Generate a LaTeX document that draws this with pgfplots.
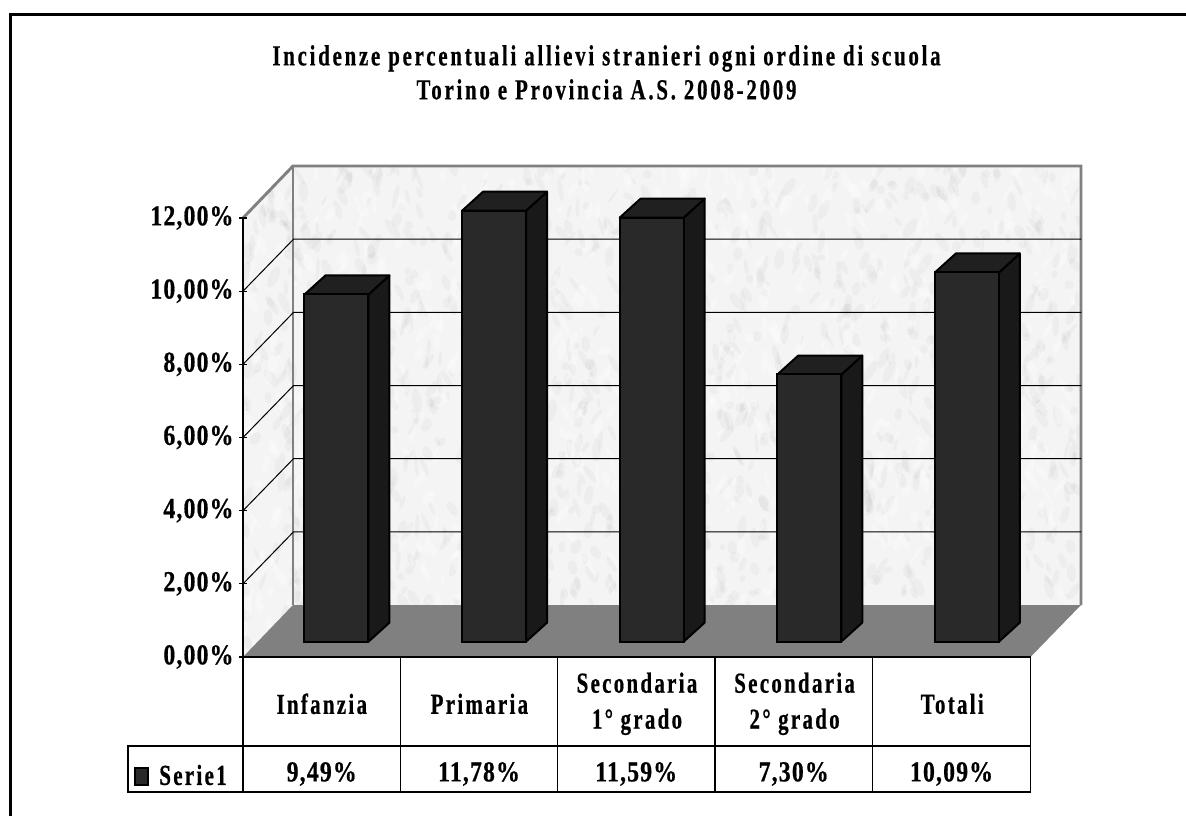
\documentclass[border=0pt]{standalone}
\usepackage{pgfplots}
\usepackage{pgfplotstable}
\pgfplotsset{compat=1.18}
\usepackage{fontspec}
\setmainfont{Liberation Serif}
\newfontfamily\titlef[LetterSpace=9.5,FakeStretch=0.72,FakeBold=0.6]{Liberation Serif Bold}
\newfontfamily\labf[LetterSpace=8,FakeStretch=0.72,FakeBold=0.6]{Liberation Serif Bold}
\newfontfamily\tickf[LetterSpace=4,FakeStretch=0.82,FakeBold=0.6]{Liberation Serif Bold}
\definecolor{wall}{HTML}{F4F4F4}
\definecolor{floorc}{HTML}{808080}
\definecolor{barfront}{HTML}{292929}
\definecolor{barside}{HTML}{191919}
\definecolor{bartop}{HTML}{202020}
\pgfplotstableread{
idx value
0 9.49
1 11.78
2 11.59
3 7.30
4 10.09
}\datatable
% geometry in axis units
\def\dx{0.3204}  \def\dy{1.42}    % depth of the chart floor
\def\hw{0.203}   \def\ox{0.0933}  % half width and x offset of a bar
\def\bx{0.133}   \def\by{0.52}    % depth of a bar
\newcommand\barsides[2]{%
  \pgfmathsetmacro\xa{#1+\ox+\hw}%
  \pgfmathsetmacro\xl{#1+\ox-\hw}%
  \pgfmathsetmacro\xb{\xa+\bx}%
  \pgfmathsetmacro\xm{\xl+\bx}%
  \pgfmathsetmacro\ybot{0.42}%
  \pgfmathsetmacro\ybb{0.42+\by}%
  \pgfmathsetmacro\ytop{#2+0.42}%
  \pgfmathsetmacro\ytt{#2+0.42+\by}%
  \edef\temp{\noexpand\addplot[fill=barside,draw=black,line width=1.5pt,line join=round] coordinates {(\xa,\ybot)(\xb,\ybb)(\xb,\ytt)(\xa,\ytop)} -- cycle;
  \noexpand\addplot[fill=bartop,draw=black,line width=1.5pt,line join=round] coordinates {(\xl,\ytop)(\xm,\ytt)(\xb,\ytt)(\xa,\ytop)} -- cycle;}%
  \temp}
\newcommand\griddiag[1]{%
  \pgfmathsetmacro\yb{#1+\dy}%
  \pgfmathsetmacro\xb{-0.5+\dx}%
  \pgfmathsetmacro\xe{4.5+\dx}%
  \edef\temp{\noexpand\addplot[black,line width=0.75pt] coordinates {(-0.5,#1)(\xb,\yb)(\xe,\yb)};}%
  \temp}
\begin{document}
\begin{tikzpicture}
\path[use as bounding box] (0,0) rectangle (889.5pt,-612pt);
\fill[white] (0,0) rectangle (889.5pt,-612pt);
\begin{scope}[x=0.75pt,y=-0.75pt]
  % outer frame
  \draw[black,line width=2.3pt] (10.5,816) -- (10.5,14.5) -- (1186,14.5);
  % walls
  \fill[wall] (243,657) -- (243,218) -- (293,166) -- (1081,166) -- (1081,605) -- (293,605) -- cycle;
  \begin{scope}
    \clip (243,657) -- (243,218) -- (293,166) -- (1081,166) -- (1081,605) -- (293,605) -- cycle;
    \pgfmathsetseed{4711}
    \foreach \i in {1,...,2200}{
      \pgfmathsetmacro\px{243+rnd*840}
      \pgfmathsetmacro\py{166+rnd*490}
      \pgfmathsetmacro\ra{3+rnd*9}
      \pgfmathsetmacro\rb{1.5+rnd*3.5}
      \pgfmathsetmacro\an{50+rnd*80}
      \pgfmathsetmacro\kind{rnd}
      \ifdim\kind pt<0.4pt
        \fill[white,opacity=0.30,rotate around={\an:(\px,\py)}] (\px,\py) ellipse [x radius=\ra,y radius=\rb];
      \else
        \fill[black!50,opacity=0.06,rotate around={\an:(\px,\py)}] (\px,\py) ellipse [x radius=\ra,y radius=\rb];
      \fi
    }
  \end{scope}
  % floor
  \fill[floorc] (243,657) -- (293,605) -- (1081,605) -- (1030.5,657) -- cycle;
  % wall outline
  \draw[floorc,line width=2.2pt,line join=miter] (243,218) -- (293,166) -- (1081,166) -- (1081,605);
  \draw[floorc,line width=2.2pt] (293,166) -- (293,605);
\end{scope}
\begin{axis}[
  at={(182.25pt,-492.75pt)},anchor=south west,
  scale only axis,width=591pt,height=329.25pt,
  xmin=-0.5,xmax=4.5,ymin=0,ymax=12,clip=false,
  axis x line=bottom,axis y line=left,
  axis line style={-,black},
  x axis line style={line width=1.8pt},
  y axis line style={line width=1.1pt},
  xtick={0,1,2,3,4},
  xticklabels={Infanzia,Primaria,{Secondaria\\1° grado},{Secondaria\\2° grado},Totali},
  xticklabel style={font=\labf\fontsize{21.75pt}{27pt}\selectfont,align=center,anchor=center,yshift=-32.5pt},
  x tick style={draw=none},
  major tick length=5.25pt,
  ytick={0,2,4,6,8,10,12},
  yticklabels={{0,00\%},{2,00\%},{4,00\%},{6,00\%},{8,00\%},{10,00\%},{12,00\%}},
  yticklabel style={font=\tickf\fontsize{21.75pt}{24pt}\selectfont,anchor=east,xshift=-1pt},
  y tick style={black,line width=0.8pt},
]
\griddiag{2}\griddiag{4}\griddiag{6}\griddiag{8}\griddiag{10}
\barsides{0}{9.49}
\barsides{1}{11.78}
\barsides{2}{11.59}
\barsides{3}{7.30}
\barsides{4}{10.09}
\addplot[ybar,bar width=48pt,bar shift=11pt,yshift=11.6pt,fill=barfront,draw=black,line width=1.5pt] table[x=idx,y=value] {\datatable};
\end{axis}
\begin{scope}[x=0.75pt,y=-0.75pt]
  % data table
  \draw[black,line width=0.9pt] (128,746) rectangle (1030.5,792);
  \foreach \xx in {243,400.5,557.5,715,872.5,1030.5}
    \draw[black,line width=0.9pt] (\xx,657) -- (\xx,792);
  \fill[barfront,draw=black,line width=1.4pt] (135,768) rectangle (148,785);
  \node[anchor=center,font=\labf\fontsize{21.75pt}{24pt}\selectfont] at (193,775) {Serie1};
  \foreach \xx/\t in {321.7/{9,49\%},479/{11,78\%},636.2/{11,59\%},793.7/{7,30\%},951.5/{10,09\%}}
    \node[anchor=center,font=\tickf\fontsize{21.75pt}{24pt}\selectfont] at (\xx,774) {\t};
  % title
  \node[anchor=center,font=\titlef\fontsize{21.75pt}{25.5pt}\selectfont,align=center] at (606.5,72.5) {Incidenze percentuali allievi stranieri ogni ordine di scuola\\Torino e Provincia A.S. 2008-2009};
\end{scope}
\end{tikzpicture}
\end{document}
